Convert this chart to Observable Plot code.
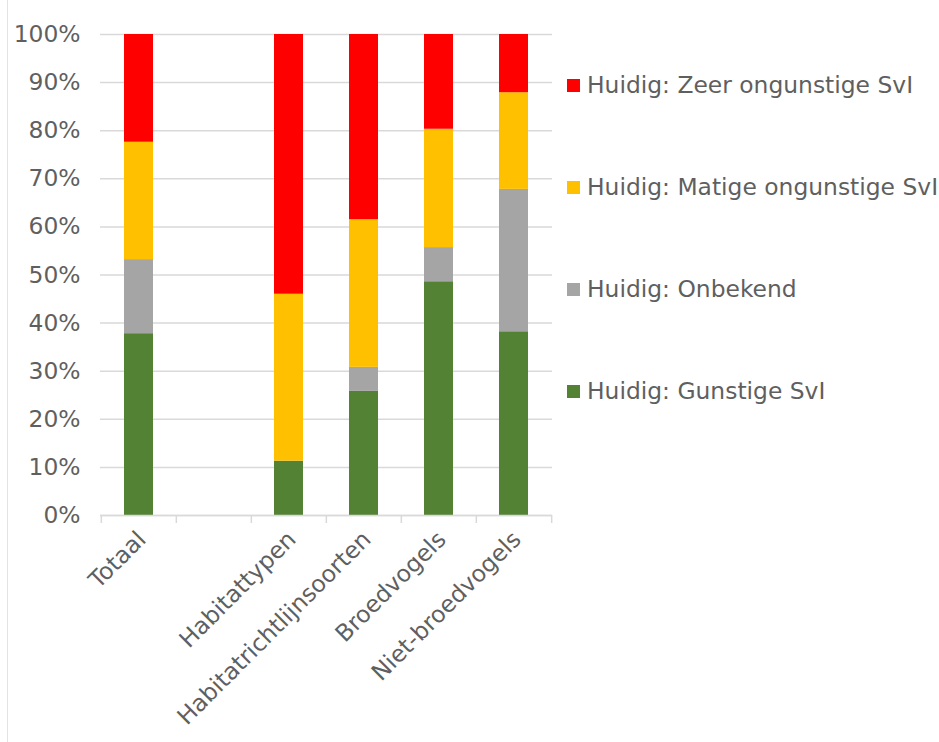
<!DOCTYPE html>
<html>
<head>
<meta charset="utf-8">
<script src="https://cdn.jsdelivr.net/npm/d3@7"></script>
<script src="https://cdn.jsdelivr.net/npm/@observablehq/plot@0.6"></script>
<style>
  html, body { margin: 0; padding: 0; background: #fff; }
  #wrap { position: relative; width: 939px; height: 742px; overflow: hidden; font-family: "DejaVu Sans", Verdana, sans-serif; }
  #frame { position: absolute; left: 7px; top: 0; width: 0; height: 742px; border-left: 1px solid #e3e3e3; }
  .leg { position: absolute; left: 567px; display: flex; align-items: center; font-size: 23.4px; color: #5f5f5f; white-space: nowrap; }
  .leg .sw { width: 13px; height: 13px; margin-right: 7px; }
</style>
</head>
<body>
<div id="wrap"><div id="frame"></div></div>
<script>
const categories = ["Totaal", "", "Habitattypen", "Habitatrichtlijnsoorten", "Broedvogels", "Niet-broedvogels"];
const series = ["Huidig: Gunstige SvI", "Huidig: Onbekend", "Huidig: Matige ongunstige SvI", "Huidig: Zeer ongunstige SvI"];
const colors = ["#548235", "#a5a5a5", "#ffc000", "#ff0000"];
// values per category (%)
const gunstige = [37.8, null, 11.3, 25.8, 48.6, 38.2];
const onbekend = [15.4, null, 0, 5.0, 7.1, 29.6];
const matige   = [24.4, null, 34.7, 30.7, 24.6, 20.1];
const zeer     = [22.4, null, 54.0, 38.5, 19.7, 12.1];
const yTicks = [0, 10, 20, 30, 40, 50, 60, 70, 80, 90, 100];
const legendOrder = [3, 2, 1, 0];

const valuesBySeries = [gunstige, onbekend, matige, zeer];
const data = [];
series.forEach((s, si) => {
  categories.forEach((c, ci) => {
    const v = valuesBySeries[si][ci];
    if (v != null) data.push({category: c, series: s, value: v});
  });
});

const W = 939, H = 742;
const mL = 100, mR = 387, mT = 34, mB = 227;
const step = (W - mL - mR) / categories.length;
const FS = 23.4;

const chart = Plot.plot({
  width: W,
  height: H,
  marginLeft: mL,
  marginRight: mR,
  marginTop: mT,
  marginBottom: mB,
  style: {fontFamily: "DejaVu Sans, Verdana, sans-serif", fontSize: FS + "px", color: "#5f5f5f", background: "transparent"},
  x: {domain: categories, paddingInner: 0.615, paddingOuter: 0.3075, label: null},
  y: {domain: [0, 100], label: null},
  color: {domain: series, range: colors},
  marks: [
    Plot.gridY(yTicks, {stroke: "#d9d9d9", strokeOpacity: 1, strokeWidth: 1.5}),
    Plot.barY(data, {x: "category", y: "value", fill: "series"}),
    Plot.ruleY([0], {stroke: "#d9d9d9", strokeWidth: 1.5}),
    Plot.axisY(yTicks, {tickSize: 0, tickPadding: 20, tickFormat: d => d + "%", fill: "#5f5f5f", fontSize: FS, label: null}),
    Plot.axisX({tickSize: 8, dx: -step / 2, tickFormat: () => "", stroke: "#d9d9d9", strokeWidth: 1.5, label: null}),
    Plot.axisX([categories[categories.length - 1]], {tickSize: 8, dx: step / 2, tickFormat: () => "", stroke: "#d9d9d9", strokeWidth: 1.5, label: null}),
    Plot.axisX({tickSize: 0, tickRotate: -45, tickPadding: 20, dx: 3, fill: "#5f5f5f", fontSize: FS, label: null})
  ]
});
const wrap = document.getElementById("wrap");
chart.style.position = "absolute";
chart.style.left = "0px";
chart.style.top = "0px";
wrap.appendChild(chart);

const legY = [85, 187, 289, 391];
legendOrder.forEach((si, i) => {
  const d = document.createElement("div");
  d.className = "leg";
  d.style.top = (legY[i] - 15) + "px";
  d.style.height = "30px";
  const sw = document.createElement("span");
  sw.className = "sw";
  sw.style.background = colors[si];
  const t = document.createElement("span");
  t.textContent = series[si];
  d.appendChild(sw);
  d.appendChild(t);
  wrap.appendChild(d);
});
</script>
</body>
</html>
